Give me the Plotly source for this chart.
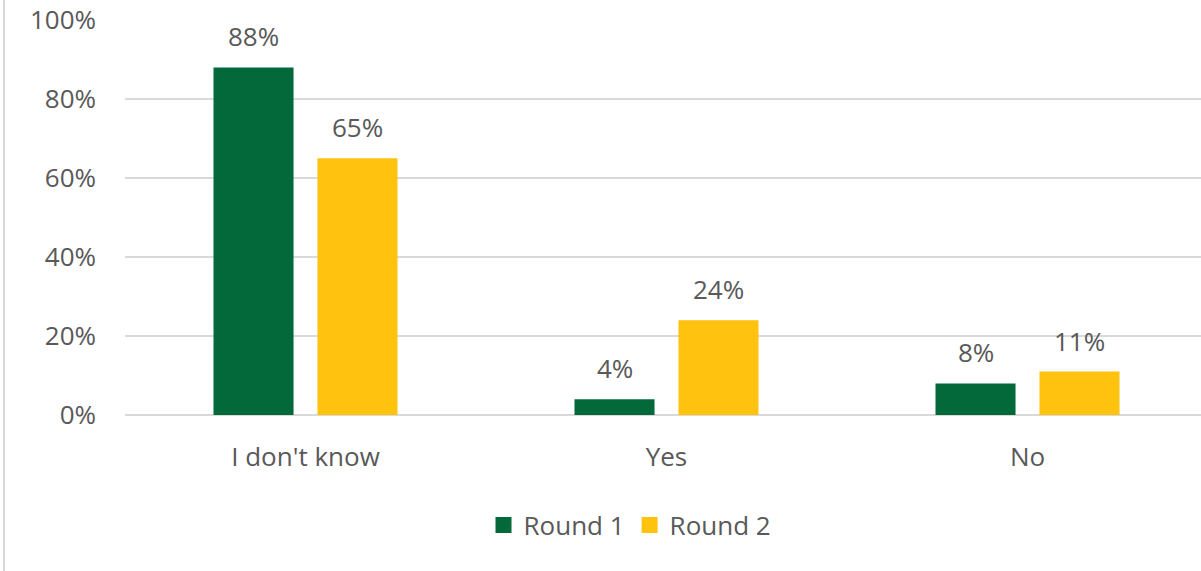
import plotly.graph_objects as go

categories = ["I don't know", "Yes", "No"]
round1 = [0.88, 0.04, 0.08]
round2 = [0.65, 0.24, 0.11]
series_names = ["Round 1", "Round 2"]
y_ticks = [0, 0.2, 0.4, 0.6, 0.8, 1.0]
y_tick_labels = ["0%", "20%", "40%", "60%", "80%", "100%"]

GREEN = "#03693A"
YELLOW = "#FFC20F"
GRID = "#D9D9D9"
TEXT = "#595959"
FONT = "Open Sans"
FS = 26

W, H = 1201, 571
ML, MT, MB = 125, 20, 156
plot_h = H - MT - MB
plot_w = W - ML
cat_px = 361
bargap = 0.424
slot_frac = (1 - bargap) / 2  # share of a category taken by one bar slot

series = [(series_names[0], round1, GREEN), (series_names[1], round2, YELLOW)]

fig = go.Figure()
for name, vals, color in series:
    fig.add_trace(go.Bar(
        name=name, x=categories, y=vals,
        marker=dict(color=color, line=dict(width=0)),
        showlegend=False,
    ))
    # legend entry with a larger square swatch
    fig.add_trace(go.Scatter(
        name=name, x=[categories[0]], y=[None], mode="markers",
        marker=dict(symbol="square", size=17, color=color),
        showlegend=True, hoverinfo="skip",
    ))

# value labels above each bar
annotations = []
for i, (name, vals, color) in enumerate(series):
    offset = (i - 0.5) * slot_frac * cat_px
    for cat, v in zip(categories, vals):
        annotations.append(dict(
            x=cat, y=v, xref="x", yref="y",
            text=f"{round(v*100)}%", showarrow=False,
            xshift=offset, yshift=31, yanchor="middle",
            font=dict(family=FONT, size=FS, color=TEXT),
        ))

fig.update_layout(
    width=W, height=H,
    margin=dict(l=ML, r=0, t=MT, b=MB, pad=0),
    paper_bgcolor="white", plot_bgcolor="white",
    barmode="group", bargap=bargap, bargroupgap=0.23,
    font=dict(family=FONT, size=FS, color=TEXT),
    legend=dict(
        orientation="h", x=(630 - ML) / plot_w, xanchor="center",
        y=-(525 - (MT + plot_h)) / plot_h, yanchor="middle",
        font=dict(family=FONT, size=FS, color=TEXT),
        itemwidth=30, traceorder="normal", itemsizing="trace",
    ),
    xaxis=dict(
        range=[-0.5, -0.5 + plot_w / cat_px],
        showgrid=False, showline=False, zeroline=False,
        ticks="", ticklabelstandoff=24,
        tickfont=dict(family=FONT, size=FS, color=TEXT),
    ),
    yaxis=dict(
        range=[0, 1], tickvals=y_ticks, ticktext=y_tick_labels,
        showgrid=True, gridcolor=GRID, gridwidth=2,
        zeroline=True, zerolinecolor=GRID, zerolinewidth=2,
        showline=False, ticks="", ticklabelstandoff=28,
        tickfont=dict(family=FONT, size=FS, color=TEXT),
    ),
    annotations=annotations,
    shapes=[dict(
        type="line", xref="paper", yref="paper",
        x0=(4 - ML) / plot_w, x1=(4 - ML) / plot_w,
        y0=-MB / plot_h, y1=1 + MT / plot_h,
        line=dict(color=GRID, width=2),
    )],
)

fig.write_html("out.html")
